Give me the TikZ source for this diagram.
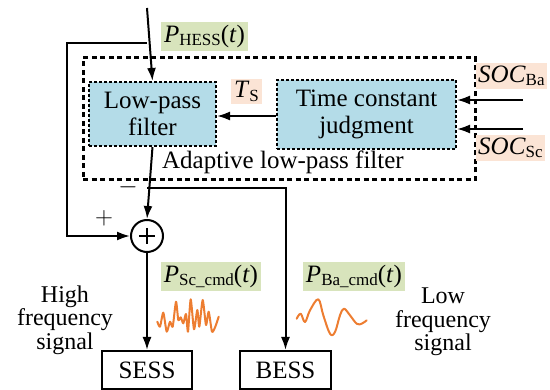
\documentclass[tikz,border=0pt]{standalone}
\usepackage{fontspec}
\setmainfont{Liberation Serif}
\usetikzlibrary{arrows.meta,calc}

\definecolor{sigbg}{HTML}{D8E4BC}
\definecolor{parbg}{HTML}{FBE4D5}
\definecolor{blockbg}{HTML}{B4DCE8}
\definecolor{wave}{HTML}{ED7D31}

\newcommand{\lowidx}[1]{\raisebox{-0.3ex}{\fontsize{17}{17}\selectfont #1}}

\tikzset{
  wire/.style={line width=2pt},
  arr/.style={wire, -{Latex[length=13pt,width=9pt]}},
  stage/.style={draw, line width=2pt, dash pattern=on 3pt off 2pt, fill=blockbg,
    align=center, inner sep=0pt, font=\fontsize{25}{27}\selectfont},
  outerbox/.style={draw, line width=3pt, dash pattern=on 5pt off 3.5pt, inner sep=0pt},
  device/.style={draw, line width=2pt, minimum width=90pt, minimum height=38pt, inner sep=0pt},
  sig/.style={fill=sigbg, inner sep=3pt},
  par/.style={fill=parbg, inner sep=3pt},
  sumnode/.style={draw, circle, line width=2pt, minimum size=32pt, inner sep=0pt},
  wavy/.style={draw=wave, line width=2pt, line join=round, line cap=round},
  note/.style={align=center, inner sep=0pt, font=\fontsize{24}{23.5}\selectfont}
}

\begin{document}
\begin{tikzpicture}[x=1pt, y=-1pt, font=\fontsize{25}{27}\selectfont]
\useasboundingbox (0,0) rectangle (550,390);

% adaptive low-pass filter frame and its blocks
\node[outerbox, minimum width=392pt, minimum height=122pt] (alpf) at (279,119) {};
\node[stage, minimum width=127pt, minimum height=64pt] (lpf) at (152.5,114) {Low-pass\\filter};
\node[stage, minimum width=179pt, minimum height=69pt] (tcj) at (366.5,114.5) {Time constant\\judgment};
\node[inner sep=0pt] (alpflabel) at (283,162) {Adaptive low-pass filter};

% summing junction and storage systems
\node[sumnode] (sum) at (147,236) {};
\draw[line width=1.2pt] ($(sum.center)+(-8,0)$) -- ($(sum.center)+(8,0)$)
  ($(sum.center)+(0,-8)$) -- ($(sum.center)+(0,8)$);
\node[device] (sess) at (147,370) {SESS};
\node[device, minimum width=91pt] (bess) at (285.5,370) {BESS};

% inputs
\coordinate (pin) at (147,8);
\coordinate (split) at (147,43);
\coordinate (fbcorner) at (67,43);
\coordinate (socba) at (523,100);
\coordinate (socsc) at (523,129);
\coordinate (lowsplit) at (147,188);

% signal paths
\draw[arr] (pin) -- (lpf.north);
\draw[arr] (split) -- (fbcorner) |- (sum.west);
\draw[arr] (tcj.west |- 0,116) -- (lpf.east |- 0,116);
\draw[arr] (socba) -- (tcj.east |- socba);
\draw[arr] (socsc) -- (tcj.east |- socsc);
\draw[arr] (lpf.south) -- (sum.north);
\draw[arr] (lowsplit) -| (bess.north);
\draw[arr] (sum.south) -- (sess.north);

% labels
\node[sig] (phess) at (204.5,36.5) {\textit{P}\lowidx{HESS}(\textit{t})};
\node[par] (ts) at (246.5,91.5) {\textit{T}\lowidx{S}};
\node[par, anchor=west, inner xsep=2pt] (soca) at (476,76) {\textit{SOC}\lowidx{Ba}};
\node[par, anchor=west, inner xsep=2pt] (socb) at (476,148) {\textit{SOC}\lowidx{Sc}};
\node[inner sep=0pt] (minus) at (128,187) {$-$};
\node[inner sep=0pt] (plus) at (104,218) {$+$};
\node[sig] (psc) at (211,276.5) {\textit{P}\lowidx{Sc\_cmd}(\textit{t})};
\node[sig] (pba) at (354,276.5) {\textit{P}\lowidx{Ba\_cmd}(\textit{t})};
\node[note] (hf) at (65,320) {High\\frequency\\signal};
\node[note] (lf) at (443,322) {Low\\frequency\\signal};

% waveforms
\draw[wavy] plot[smooth, tension=0.4] coordinates {(157.3,321.7) (160,326.7) (163.3,312.7)
  (166.7,331.7) (170,321.7) (172.7,326.7) (176,301.7) (178.3,320) (180.7,317.3) (183.3,323.3)
  (186,314) (188,331.7) (190.7,299.3) (194,329.3) (197.3,310) (199.3,326.7) (202.7,300)
  (206,325) (208.7,311.7) (212,331.7) (215.3,326.7) (218.7,316.7)};
\draw[wavy] plot[smooth, tension=0.6] coordinates {(296.7,318.7) (300.7,313.7) (305,322)
  (310,310.3) (318.3,299.3) (323.3,315.3) (330,333.7) (335,332) (340,315.3) (344,308.7)
  (350,315.3) (356.7,323.7) (361.7,323.7) (366.7,320.3)};
\end{tikzpicture}
\end{document}
